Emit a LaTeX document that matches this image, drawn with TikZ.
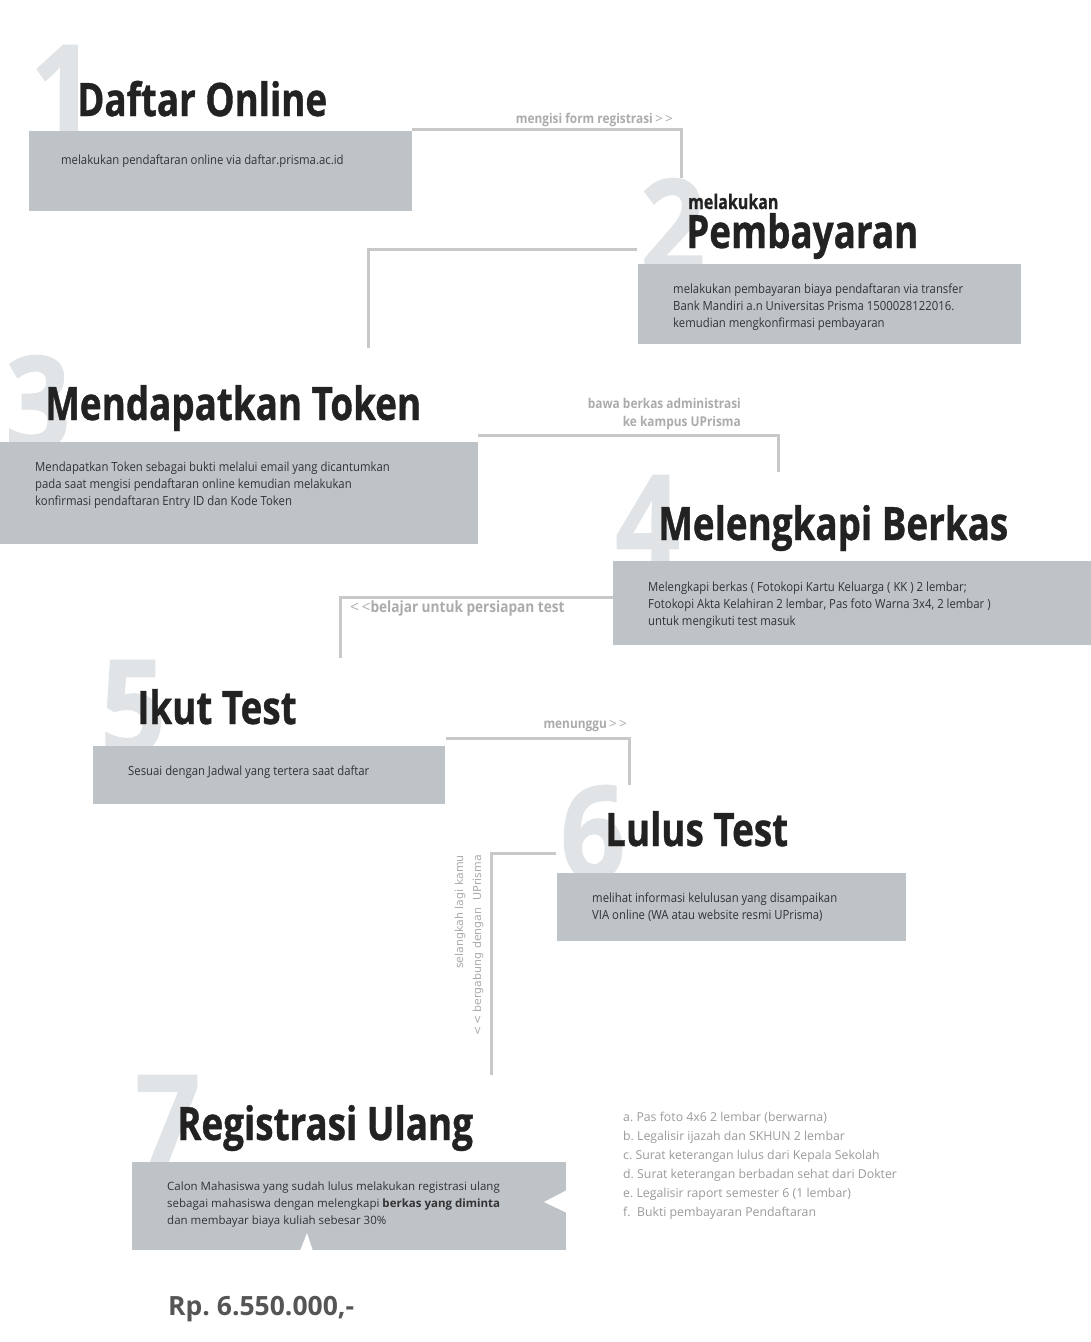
\documentclass[tikz,border=0pt]{standalone}
\usepackage{fontspec}
\setmainfont{Open Sans}
\newfontfamily\headfont[FakeStretch=0.80, FakeBold=0.8]{Open Sans}
\newfontfamily\numfont[FakeStretch=0.88, FakeBold=0.8]{Open Sans}
\newfontfamily\hintfont[FakeStretch=0.88]{Open Sans}
\newfontfamily\bodyfont[FakeStretch=0.90]{Open Sans}
\newfontfamily\sidefont{DejaVu Sans}
\usetikzlibrary{positioning}
\definecolor{boxGray}{HTML}{BEC3C8}
\definecolor{digitGray}{HTML}{E1E4E7}
\definecolor{lineGray}{HTML}{C8C8C8}
\definecolor{labelGray}{HTML}{ABABAB}
\definecolor{inkDark}{HTML}{222222}
\definecolor{bodyInk}{HTML}{333333}
\definecolor{priceGray}{HTML}{555555}
\definecolor{listGray}{HTML}{9A9A9A}
\newcommand{\fwdmark}{\textnormal{\,>\,>}}
\newcommand{\backmark}{\textnormal{<\,<}}
\frenchspacing

\begin{document}
\begin{tikzpicture}[x=1pt, y=-1pt,
    digit/.style={anchor=north west, inner sep=0pt, text=digitGray, font=\numfont\bfseries\fontsize{130}{130}\selectfont},
    title/.style={anchor=base west, inner sep=0pt, text=inkDark, font=\headfont\bfseries\fontsize{46}{46}\selectfont},
    box/.style={anchor=north west, fill=boxGray, inner sep=0pt, outer sep=0pt},
    boxtext/.style={anchor=north west, inner sep=0pt, align=left, text=bodyInk, font=\bodyfont\fontsize{12.6}{17}\selectfont},
    link/.style={draw=lineGray, line width=3pt},
    hint/.style={inner sep=0pt, text=labelGray, font=\hintfont\bfseries\fontsize{13.5}{18}\selectfont},
    sidehint/.style={inner sep=0pt, rotate=90, anchor=east, text=labelGray, font=\sidefont\fontsize{11}{12}\selectfont}]
  \useasboundingbox (0,0) rectangle (1091,1342);

  % step 1
  \node[digit] (n1) at (30,45) {1};
  \node[title] (t1) at (77,116) {Daftar Online};
  \node[box, minimum width=383pt, minimum height=80pt] (box1) at (29,131) {};
  \node[boxtext, below right=24pt and 32pt of box1.north west] (d1) {melakukan pendaftaran online via daftar.prisma.ac.id};
  \coordinate (e1) at (681,178);
  \draw[link] ([yshift=1.5pt]box1.north east) -| (e1);
  \node[hint, anchor=east] (h1) at (673,120) {mengisi form registrasi\fwdmark};

  % step 2
  \node[digit] (n2) at (640,178) {2};
  \node[title, font=\headfont\bfseries\fontsize{20}{20}\selectfont] (s2) at (688,209) {melakukan};
  \node[title] (t2) at (686,248) {Pembayaran};
  \node[box, minimum width=383pt, minimum height=80pt] (box2) at (638,264) {};
  \node[boxtext, below right=20pt and 35pt of box2.north west] (d2) {melakukan pembayaran biaya pendaftaran via transfer\\
    Bank Mandiri a.n Universitas Prisma 1500028122016.\\
    kemudian mengkonfirmasi pembayaran};
  \coordinate (a2) at (637,249);
  \coordinate (e2) at (368,348);
  \draw[link] (a2) -| (e2);

  % step 3
  \node[digit] (n3) at (5,355) {3};
  \node[title] (t3) at (45,420) {Mendapatkan Token};
  \node[box, minimum width=478pt, minimum height=102pt] (box3) at (0,442) {};
  \node[boxtext, below right=20pt and 35pt of box3.north west] (d3) {Mendapatkan Token sebagai bukti melalui email yang dicantumkan\\
    pada saat mengisi pendaftaran online kemudian melakukan\\
    konfirmasi pendaftaran Entry ID dan Kode Token};
  \coordinate (a3) at (478,435);
  \coordinate (e3) at (778,472);
  \draw[link] (a3) -| (e3);
  \node[hint, anchor=north east, align=right] (h3) at (741,398) {bawa berkas administrasi\\ ke kampus UPrisma};

  % step 4
  \node[digit] (n4) at (615,475) {4};
  \node[title] (t4) at (658,540) {Melengkapi Berkas};
  \node[box, minimum width=478pt, minimum height=84pt] (box4) at (613,561) {};
  \node[boxtext, below right=21pt and 35pt of box4.north west] (d4) {Melengkapi berkas ( Fotokopi Kartu Keluarga ( KK ) 2 lembar;\\
    Fotokopi Akta Kelahiran 2 lembar, Pas foto Warna 3x4, 2 lembar )\\
    untuk mengikuti test masuk};
  \coordinate (a4) at (613,597);
  \coordinate (e4) at (340,658);
  \draw[link] (a4) -| (e4);
  \node[hint, anchor=west, font=\hintfont\bfseries\fontsize{15.5}{18}\selectfont] (h4) at (350,608) {\backmark belajar untuk persiapan test};

  % step 5
  \node[digit] (n5) at (100,660) {5};
  \node[title] (t5) at (137,724) {Ikut Test};
  \node[box, minimum width=352pt, minimum height=58pt] (box5) at (93,746) {};
  \node[boxtext, below right=20pt and 35pt of box5.north west] (d5) {Sesuai dengan Jadwal yang tertera saat daftar};
  \coordinate (a5) at (446,738);
  \coordinate (e5) at (629,785);
  \draw[link] (a5) -| (e5);
  \node[hint, anchor=east] (h5) at (627,726) {menunggu\fwdmark};

  % step 6
  \node[digit] (n6) at (560,785) {6};
  \node[title] (t6) at (605,846) {Lulus Test};
  \node[box, minimum width=349pt, minimum height=68pt] (box6) at (557,873) {};
  \node[boxtext, below right=20pt and 35pt of box6.north west] (d6) {melihat informasi kelulusan yang disampaikan\\
    VIA online (WA atau website resmi UPrisma)};
  \coordinate (a6) at (556,853);
  \coordinate (e6) at (491,1075);
  \draw[link] (a6) -| (e6);
  \node[sidehint] (v1) at (460,855) {selangkah lagi kamu};
  \node[sidehint] (v2) at (478,855) {<\,< bergabung dengan \ UPrisma};

  % step 7
  \node[digit] (n7) at (135,1075) {7};
  \node[title] (t7) at (177,1140) {Registrasi Ulang};
  \node[box, minimum width=434pt, minimum height=88pt] (box7) at (132,1162) {};
  \fill[white] ([xshift=1pt, yshift=-28pt]box7.north east) -- ([xshift=-22pt, yshift=-40pt]box7.north east)
    -- ([xshift=1pt, yshift=-51pt]box7.north east) -- cycle;
  \fill[white] ([xshift=168pt, yshift=-1pt]box7.south west) -- ([xshift=175pt, yshift=17pt]box7.south west)
    -- ([xshift=181pt, yshift=-1pt]box7.south west) -- cycle;
  \node[boxtext, font=\fontsize{11.5}{17}\selectfont, below right=20pt and 35pt of box7.north west] (d7) {Calon Mahasiswa yang sudah lulus melakukan registrasi ulang\\
    sebagai mahasiswa dengan melengkapi \textbf{berkas yang diminta}\\
    dan membayar biaya kuliah sebesar 30\%};
  \node[anchor=north west, inner sep=0pt, align=left, text=listGray, font=\fontsize{12.3}{19}\selectfont] (req) at (623,1112) {a. Pas foto 4x6 2 lembar (berwarna)\\
    b. Legalisir ijazah dan SKHUN 2 lembar\\
    c. Surat keterangan lulus dari Kepala Sekolah\\
    d. Surat keterangan berbadan sehat dari Dokter\\
    e. Legalisir raport semester 6 (1 lembar)\\
    f.\ \ Bukti pembayaran Pendaftaran};
  \node[anchor=base west, inner sep=0pt, text=priceGray, font=\bfseries\fontsize{26.5}{26.5}\selectfont] (price) at (168,1315) {Rp. 6.550.000,-};
\end{tikzpicture}
\end{document}
